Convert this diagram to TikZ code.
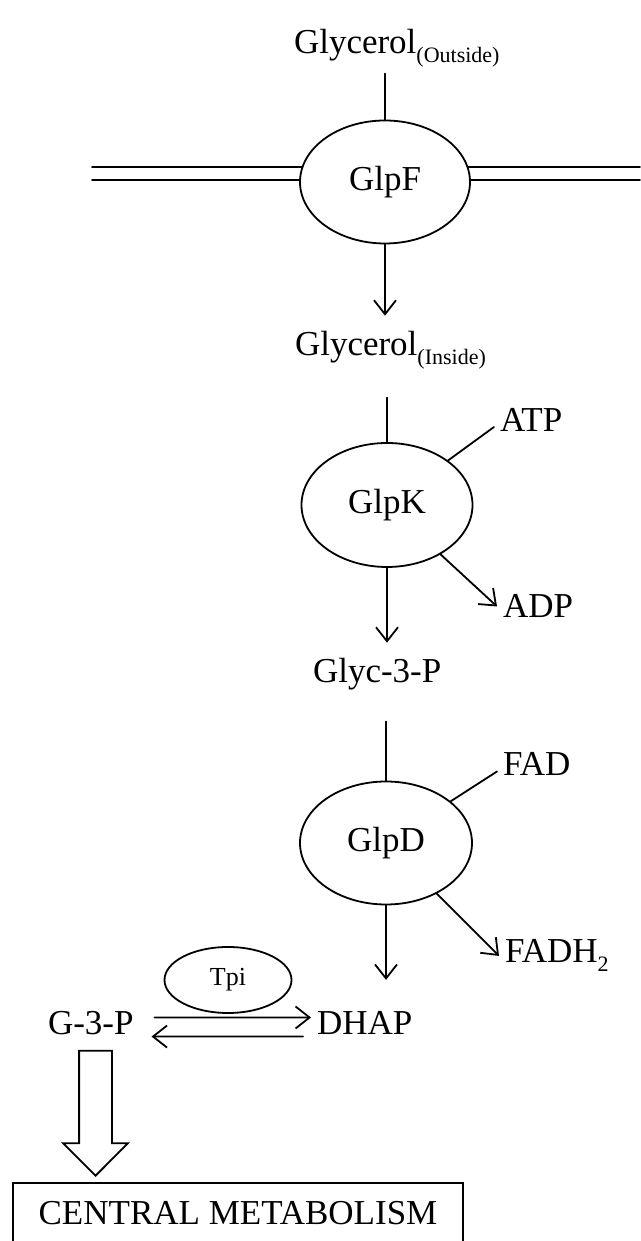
\documentclass[tikz,border=0pt]{standalone}
\usepackage{fontspec}
\setmainfont{Liberation Serif}
\usetikzlibrary{shapes.geometric,shapes.arrows,arrows.meta}
\newcommand{\lowsub}[1]{\raisebox{-9pt}{\fontsize{22}{22}\selectfont #1}}

\begin{document}
\begin{tikzpicture}[x=1pt,y=1pt,
  enzyme/.style={draw=drawColor,ellipse,line width=1.8pt,fill=white,inner sep=0pt,font=\fontsize{35}{40}\selectfont},
  metab/.style={anchor=base west,inner sep=6pt,outer sep=0pt,text=drawColor,font=\fontsize{35}{40}\selectfont},
  link/.style={draw=drawColor,line width=1.8pt,line join=round,line cap=round},
  flow/.style={link,-{Straight Barb[length=14pt,width=22pt]}}]
\definecolor{fillColor}{RGB}{255,255,255}
\definecolor{drawColor}{RGB}{0,0,0}
\path[use as bounding box,fill=fillColor,fill opacity=0.00] (0,0) rectangle (640,1241);

\path[link] ( 92,1074) -- (640,1074);

\path[link] ( 92,1061) -- (640,1061);

\node[enzyme,minimum width=170pt,minimum height=123pt] (glpf) at (385,1059) {GlpF};
\node[metab] (gout) at (288,1187) {Glycerol\lowsub{(Outside)}};
\node[metab] (gin) at (289,885) {Glycerol\lowsub{(Inside)}};

\node[enzyme,minimum width=171pt,minimum height=124pt] (glpk) at (387,736) {GlpK};
\node[metab] (atp) at (494,809) {ATP};
\node[metab] (adp) at (497,623) {ADP};
\node[metab] (glyc3p) at (307,558) {Glyc-3-P};

\node[enzyme,minimum width=172pt,minimum height=123pt] (glpd) at (386,398) {GlpD};
\node[metab] (fad) at (497,465) {FAD};
\node[metab] (fadh) at (499,278) {FADH\lowsub{2}};

\node[enzyme,minimum width=127pt,minimum height=66pt,font=\fontsize{26}{30}\selectfont] (tpi) at (228,261) {Tpi};
\node[metab] (g3p) at ( 42,206) {G-3-P};
\node[metab] (dhap) at (311,206) {DHAP};

\node[single arrow,draw=drawColor,line width=1.8pt,inner sep=15.5pt,minimum height=125pt,
  single arrow head extend=16pt,single arrow tip angle=90,shape border rotate=270,anchor=tip] (bigarrow) at (95.5,64) {};
\node[draw=drawColor,line width=1.8pt,minimum width=450pt,minimum height=60pt,text=drawColor,
  font=\fontsize{35}{40}\selectfont] (central) at (238,28) {CENTRAL METABOLISM};

\path[link] (gout.south -| glpf) -- (glpf);

\path[flow,shorten >=10pt] (glpf) -- (glpf |- gin.north);

\path[link,shorten <=22pt] (gin.south -| glpk) -- (glpk);

\path[flow,shorten >=10pt] (glpk) -- (glpk |- glyc3p.north);

\path[link] (glpk) -- (atp.190);

\path[flow] (glpk) -- (adp.west);

\path[link,shorten <=25pt] (glyc3p.south -| glpd) -- (glpd);

\path[flow,shorten >=26pt] (glpd) -- (glpd |- dhap.north);

\path[link] (glpd) -- (fad.190);

\path[flow] (glpd) -- (fadh.west);

\path[flow,shorten <=15pt] ([yshift=6pt]g3p.east) -- ([yshift=6pt]dhap.west);

\path[flow,shorten <=8pt,shorten >=12pt] ([yshift=-13pt]dhap.west) -- ([yshift=-13pt]g3p.east);
\end{tikzpicture}
\end{document}
